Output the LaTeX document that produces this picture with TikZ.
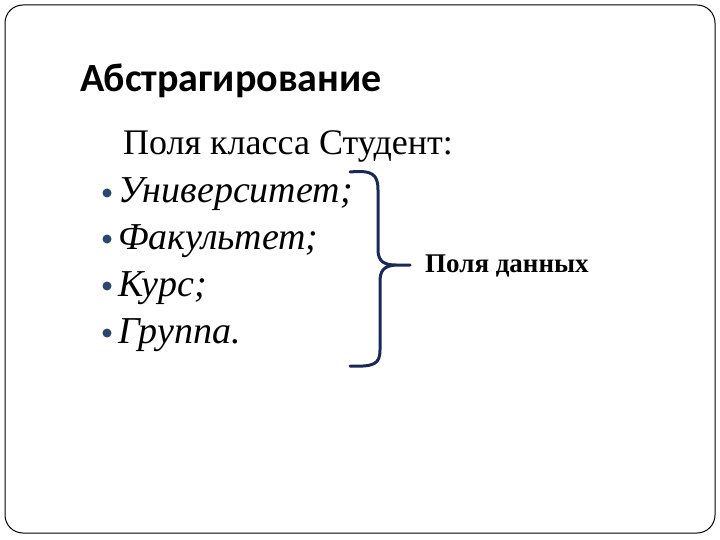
\documentclass[tikz,border=0pt]{standalone}
\usepackage{fontspec}
\setmainfont{Liberation Serif}
\newfontfamily\titlefont{Carlito}
\definecolor{navy}{RGB}{25,40,85}
\definecolor{bul}{RGB}{45,70,110}
\begin{document}
\begin{tikzpicture}[x=1pt,y=-1pt,
  txt/.style={anchor=base west,inner sep=0pt,font=\fontsize{36}{36}\selectfont},
  itm/.style={txt,font=\fontsize{38}{38}\selectfont\itshape},
  dot/.style={circle,fill=bul,inner sep=0pt,minimum size=9pt}]
\useasboundingbox (0,0) rectangle (720,540);
\draw[line width=1pt,rounded corners=18pt] (5,5) rectangle (715,533);
\node[anchor=base west,inner sep=0pt,font=\titlefont\bfseries\fontsize{40}{40}\selectfont] (title) at (80,92) {Абстрагирование};
\node[txt] (head) at (123,155) {Поля класса Студент:};
\foreach \t/\y/\n in {Университет;/203/a,Факультет;/249/b,Курс;/296/c,Группа./343/d}{
  \node[dot] (d\n) at (107,\y-10) {};
  \node[itm] (i\n) at (118,\y) {\t};
}
\draw[navy,line width=3pt,line cap=round,line join=round]
  (350,172) .. controls (372,170) and (378,174) .. (378,190) -- (378,250)
  .. controls (378,262) and (385,265) .. (396,265) -- (410,265)
  (396,265) .. controls (384,266) and (380,270) .. (380,282) -- (380,350)
  .. controls (380,364) and (374,367) .. (350,366);
\node[anchor=base west,inner sep=0pt,font=\bfseries\fontsize{27}{27}\selectfont] (lab) at (425,272) {Поля данных};
\end{tikzpicture}
\end{document}
